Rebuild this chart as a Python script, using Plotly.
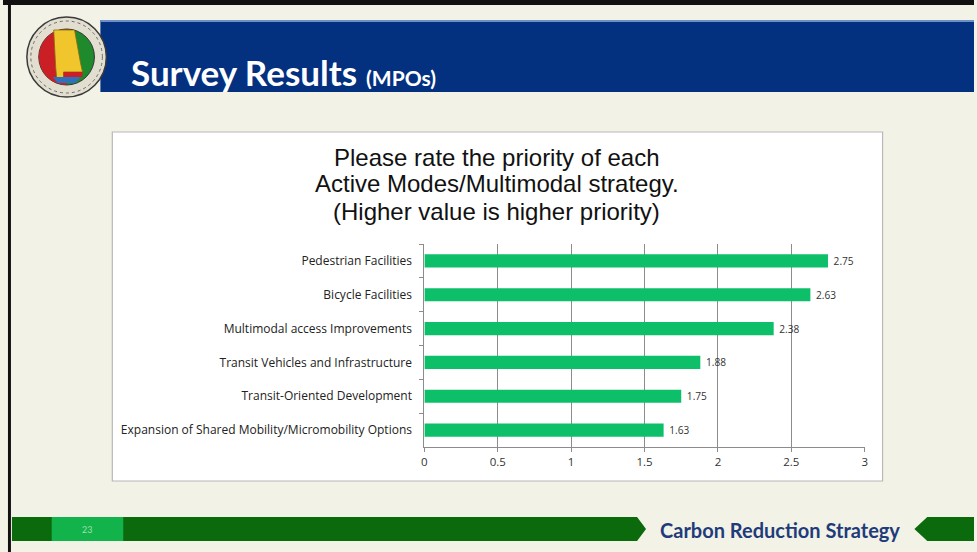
import math
import plotly.graph_objects as go

W, H = 977, 552

categories = [
    "Pedestrian Facilities",
    "Bicycle Facilities",
    "Multimodal access Improvements",
    "Transit Vehicles and Infrastructure",
    "Transit-Oriented Development",
    "Expansion of Shared Mobility/Micromobility Options",
]
values = [2.75, 2.63, 2.38, 1.88, 1.75, 1.63]
x_ticks = [0, 0.5, 1, 1.5, 2, 2.5, 3]
x_tick_labels = ["0", "0.5", "1", "1.5", "2", "2.5", "3"]

title_lines = [
    "Please rate the priority of each",
    "Active Modes/Multimodal strategy.",
    "(Higher value is higher priority)",
]


def X(px):
    return px / W


def Y(py):
    return 1 - py / H


def poly(points):
    return "M " + " L ".join(f"{X(a):.5f},{Y(b):.5f}" for a, b in points) + " Z"


BAR_GREEN = "#0DBF68"
shapes = []

# slide frame lines
shapes.append(dict(type="rect", xref="paper", yref="paper", x0=X(0), x1=X(977), y0=Y(5), y1=Y(0),
                   fillcolor="#111111", line=dict(width=0), layer="below"))
shapes.append(dict(type="rect", xref="paper", yref="paper", x0=X(5), x1=X(8), y0=Y(552), y1=Y(0),
                   fillcolor="#111111", line=dict(width=0), layer="below"))

# blue banner
shapes.append(dict(type="rect", xref="paper", yref="paper", x0=X(98), x1=X(977), y0=Y(92), y1=Y(20),
                   fillcolor="#03307F", line=dict(width=0), layer="below"))
shapes.append(dict(type="rect", xref="paper", yref="paper", x0=X(98), x1=X(977), y0=Y(22), y1=Y(20),
                   fillcolor="#6F8FC8", line=dict(width=0), layer="below"))

# logo
cx, cy, R, r = 64, 57, 40, 28
shapes.append(dict(type="circle", xref="paper", yref="paper", x0=X(cx - R), x1=X(cx + R), y0=Y(cy + R), y1=Y(cy - R),
                   fillcolor="#E2DED0", line=dict(color="#3A3A3A", width=1.5), layer="below"))
shapes.append(dict(type="circle", xref="paper", yref="paper", x0=X(cx - R + 4), x1=X(cx + R - 4), y0=Y(cy + R - 4), y1=Y(cy - R + 4),
                   fillcolor="rgba(0,0,0,0)", line=dict(color="#6A6A6A", width=1, dash="dot"), layer="below"))
shapes.append(dict(type="circle", xref="paper", yref="paper", x0=X(cx - r), x1=X(cx + r), y0=Y(cy + r), y1=Y(cy - r),
                   fillcolor="#1F8A2C", line=dict(color="#333333", width=1), layer="below"))
red_pts = [(cx + r * math.cos(math.radians(a)), cy + r * math.sin(math.radians(a))) for a in range(90, 271, 10)]
shapes.append(dict(type="path", xref="paper", yref="paper", path=poly(red_pts),
                   fillcolor="#C91F25", line=dict(width=0), layer="below"))
al = [(cx - 13, cy - 27), (cx + 8, cy - 27), (cx + 14, cy + 6), (cx + 16, cy + 15), (cx - 3, cy + 15),
      (cx - 3, cy + 21), (cx - 10, cy + 21), (cx - 11, cy + 10)]
shapes.append(dict(type="path", xref="paper", yref="paper", path=poly(al),
                   fillcolor="#F0C62C", line=dict(color="#8A6A10", width=0.8), layer="below"))
shapes.append(dict(type="path", xref="paper", yref="paper",
                   path=poly([(cx - 14, cy + 20), (cx + 14, cy + 20), (cx + 9, cy + 26), (cx - 9, cy + 26)]),
                   fillcolor="#2E6FC0", line=dict(width=0), layer="below"))
shapes.append(dict(type="rect", xref="paper", yref="paper", x0=X(cx - 3), x1=X(cx + 16), y0=Y(cy + 20), y1=Y(cy + 15),
                   fillcolor="#C91F25", line=dict(width=0), layer="below"))

# chart box
shapes.append(dict(type="rect", xref="paper", yref="paper", x0=X(110), x1=X(885), y0=Y(481), y1=Y(132),
                   fillcolor="white", line=dict(color="#B8B8B8", width=1.2), layer="below"))

# bottom bars
shapes.append(dict(type="path", xref="paper", yref="paper",
                   path=poly([(9, 517), (638, 517), (647, 529), (638, 541), (9, 541)]),
                   fillcolor="#0A6A0C", line=dict(width=0), layer="below"))
shapes.append(dict(type="rect", xref="paper", yref="paper", x0=X(49), x1=X(121), y0=Y(541), y1=Y(517),
                   fillcolor="#13B34B", line=dict(width=0), layer="below"))
shapes.append(dict(type="path", xref="paper", yref="paper",
                   path=poly([(917, 529), (930, 517), (977, 517), (977, 541), (930, 541)]),
                   fillcolor="#0A6A0C", line=dict(width=0), layer="below"))

fig = go.Figure()
fig.add_trace(go.Bar(
    x=values,
    y=categories,
    orientation="h",
    marker=dict(color=BAR_GREEN, line=dict(width=0)),
    text=["\u00a0" + f"{v:.2f}" for v in values],
    textposition="outside",
    textfont=dict(family="Open Sans", size=11.5, color="#333333"),
    cliponaxis=False,
    hoverinfo="skip",
))

annotations = [
    dict(x=X(127), y=Y(72), xref="paper", yref="paper", xanchor="left", yanchor="middle",
         text="<b>Survey Results</b> <b><span style='font-size:21px'>(MPOs)</span></b>",
         showarrow=False, font=dict(family="Lato", size=35, color="white")),
    dict(x=X(782), y=Y(530), xref="paper", yref="paper", xanchor="center", yanchor="middle",
         text="<b>Carbon Reduction Strategy</b>", showarrow=False,
         font=dict(family="Lato", size=20, color="#1F3B7A")),
    dict(x=X(85), y=Y(529), xref="paper", yref="paper", xanchor="center", yanchor="middle",
         text="23", showarrow=False, font=dict(family="Lato", size=9, color="#9FDDB0")),
]
for line, ypx in zip(title_lines, [157, 184, 212]):
    annotations.append(dict(x=X(497), y=Y(ypx), xref="paper", yref="paper", xanchor="center", yanchor="middle",
                            text=line, showarrow=False,
                            font=dict(family="Liberation Sans", size=24, color="#111111")))

fig.update_layout(
    width=W, height=H,
    margin=dict(l=0, r=0, t=0, b=0),
    paper_bgcolor="#F2F2E7",
    plot_bgcolor="white",
    showlegend=False,
    bargap=0.61,
    shapes=shapes,
    annotations=annotations,
    xaxis=dict(
        domain=[X(424), X(867)],
        range=[0, 3],
        tickvals=x_ticks,
        ticktext=x_tick_labels,
        showgrid=True, gridcolor="#8C8C8C", gridwidth=1,
        showline=True, linecolor="#8C8C8C", linewidth=1,
        ticks="outside", ticklen=4, tickcolor="#8C8C8C",
        tickfont=dict(family="Open Sans", size=11.5, color="#333333"),
        zeroline=False, fixedrange=True,
    ),
    yaxis=dict(
        domain=[Y(447), Y(244)],
        autorange="reversed",
        showline=True, linecolor="#8C8C8C", linewidth=1,
        ticks="outside", ticklen=4, tickcolor="#8C8C8C",
        tickson="boundaries",
        showgrid=False,
        tickfont=dict(family="Open Sans", size=12, color="#222222"),
        ticklabelstandoff=9,
        fixedrange=True,
    ),
)

fig.write_html(
    "out.html",
    config={"displayModeBar": False},
    post_script="document.body.style.margin='0px';document.body.style.overflow='hidden';",
)
